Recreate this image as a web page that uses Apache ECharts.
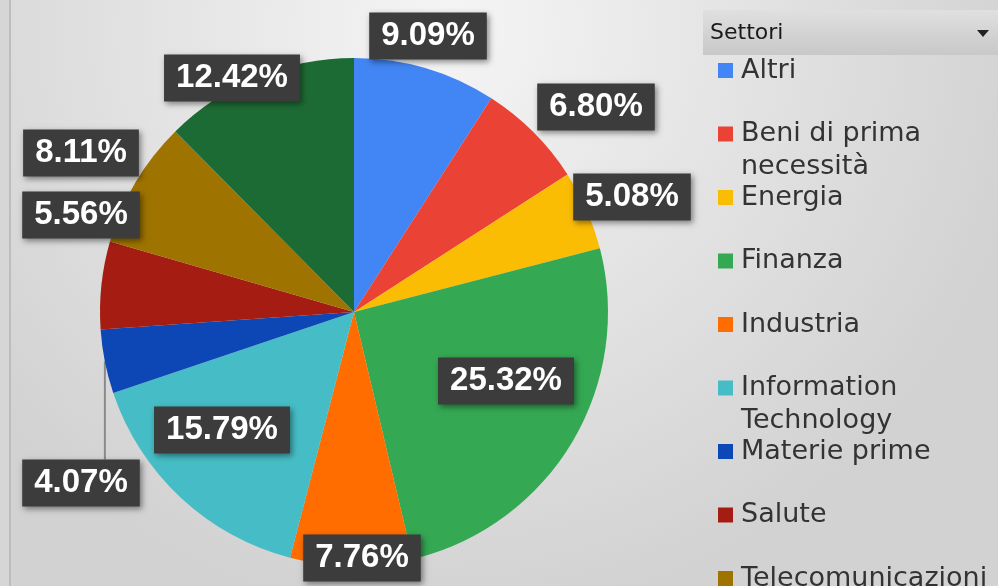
<!DOCTYPE html>
<html>
<head>
<meta charset="utf-8">
<script src="https://cdn.jsdelivr.net/npm/echarts@6/dist/echarts.min.js"></script>
<style>
html, body { margin: 0; padding: 0; }
#main { width: 998px; height: 586px; }
</style>
</head>
<body>
<div id="main"></div>
<script>
// settori e pesi (%)
var sectors = ['Altri', 'Beni di prima\nnecessità', 'Energia', 'Finanza', 'Industria',
    'Information\nTechnology', 'Materie prime', 'Salute', 'Telecomunicazioni', 'Utilities'];
var weights = [9.09, 6.80, 5.08, 25.32, 7.76, 15.79, 4.07, 5.56, 8.11, 12.42];
var sectorColors = ['#4285f4', '#ea4335', '#fbbc04', '#34a853', '#ff6d01',
    '#46bdc6', '#0c47b5', '#a51d12', '#9e7300', '#1d6b34'];
// posizione delle etichette (centro del riquadro)
var labelPos = [[428, 36], [596, 107], [632, 197], [506, 381], [362, 558],
    [222, 430], [81, 483], [81, 215], [81, 153], [232, 78]];

var myChart = echarts.init(document.getElementById('main'));

var pieData = [];
for (var i = 0; i < sectors.length; i++) {
    var item = {
        name: sectors[i],
        value: weights[i],
        itemStyle: {color: sectorColors[i]}
    };
    if (i === 6) {
        item.labelLine = {show: true, length: 10, length2: 10,
            lineStyle: {color: '#8a8a8a', width: 2}};
    }
    pieData.push(item);
}

var option = {
    animation: false,
    backgroundColor: {
        type: 'radial', x: 0.45, y: 0.05, r: 1.0,
        colorStops: [{offset: 0, color: '#f5f5f5'}, {offset: 1, color: '#d2d2d2'}]
    },
    graphic: [
        {type: 'rect', shape: {x: 0, y: 0, width: 9, height: 586}, style: {fill: '#d6d6d6'}, silent: true},
        {type: 'line', shape: {x1: 10, y1: 0, x2: 10, y2: 586}, style: {stroke: '#bdbdbd', lineWidth: 2}, silent: true},
        {
            type: 'rect', shape: {x: 703, y: 10, width: 300, height: 45},
            style: {fill: new echarts.graphic.LinearGradient(0, 0, 0, 1, [
                {offset: 0, color: '#e0e0e0'}, {offset: 1, color: '#c8c8c8'}])},
            silent: true
        },
        {type: 'text', x: 710, y: 33, style: {text: 'Settori', font: '22px "DejaVu Sans"', fill: '#1a1a1a', verticalAlign: 'middle'}, silent: true},
        {type: 'polygon', shape: {points: [[977, 30], [989, 30], [983, 37]]}, style: {fill: '#222'}, silent: true}
    ],
    legend: {
        orient: 'vertical',
        left: 718,
        top: 21,
        height: 900,
        padding: 0,
        itemWidth: 15,
        itemHeight: 15,
        itemGap: -35.5,
        icon: 'rect',
        data: sectors,
        // tre righe per voce (vuota, prima, seconda): l'icona resta sulla prima riga
        formatter: function (name) {
            var parts = name.split('\n');
            return '\n' + parts[0] + '\n' + (parts[1] || '');
        },
        textStyle: {
            fontFamily: 'DejaVu Sans',
            fontSize: 27,
            color: '#333',
            lineHeight: 33,
            padding: [0, 0, 0, 3]
        }
    },
    series: [{
        type: 'pie',
        center: [354, 312],
        radius: 254,
        startAngle: 90,
        clockwise: true,
        avoidLabelOverlap: false,
        data: pieData,
        label: {
            show: true,
            position: 'outside',
            formatter: function (p) { return p.value.toFixed(2) + '%'; },
            fontFamily: 'Liberation Sans',
            fontWeight: 'bold',
            fontSize: 33,
            lineHeight: 39,
            color: '#fff',
            backgroundColor: '#3c3c3c',
            padding: [4, 12],
            shadowBlur: 6,
            shadowColor: 'rgba(0,0,0,0.45)',
            shadowOffsetX: 2,
            shadowOffsetY: 2
        },
        labelLine: {show: false},
        labelLayout: function (params) {
            var pos = labelPos[params.dataIndex];
            var res = {x: pos[0], y: pos[1], align: 'center', verticalAlign: 'middle'};
            if (params.labelLinePoints) {
                var p0 = params.labelLinePoints[0];
                var top = pos[1] - params.labelRect.height / 2;
                res.labelLinePoints = [[p0[0], p0[1]], [p0[0], top], [p0[0], top]];
            }
            return res;
        }
    }]
};
myChart.setOption(option);
</script>
</body>
</html>
